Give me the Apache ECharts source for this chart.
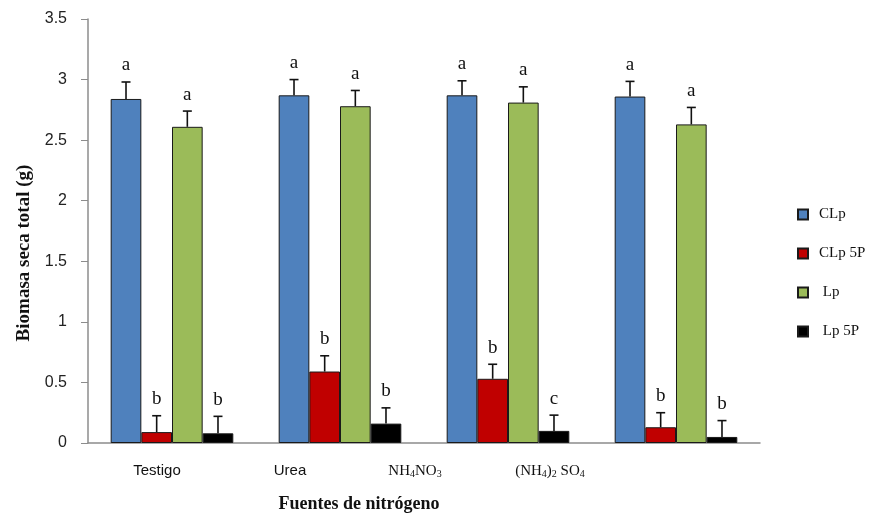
<!DOCTYPE html>
<html>
<head>
<meta charset="utf-8">
<script src="https://cdn.jsdelivr.net/npm/echarts@6/dist/echarts.min.js"></script>
<style>
  html, body { margin: 0; padding: 0; background: #fff; }
  #chart { width: 880px; height: 518px; }
</style>
</head>
<body>
<div id="chart"></div>
<script>
// Nitrogen sources (x categories)
const categories = ['Testigo', 'Urea', 'NH4NO3', '(NH4)2 SO4'];

// Total dry biomass (g) per treatment
const seriesNames = ['CLp', 'CLp 5P', 'Lp', 'Lp 5P'];
const clp   = [2.84, 2.87, 2.87, 2.86];
const clp5p = [0.09, 0.59, 0.53, 0.13];
const lp    = [2.61, 2.78, 2.81, 2.63];
const lp5p  = [0.08, 0.16, 0.10, 0.05];

// Standard errors (upper whisker)
const clpErr   = [0.14, 0.13, 0.12, 0.125];
const clp5pErr = [0.135, 0.13, 0.12, 0.12];
const lpErr    = [0.13, 0.13, 0.13, 0.14];
const lp5pErr  = [0.14, 0.13, 0.13, 0.135];

// Significance letters
const clpSig   = ['a', 'a', 'a', 'a'];
const clp5pSig = ['b', 'b', 'b', 'b'];
const lpSig    = ['a', 'a', 'a', 'a'];
const lp5pSig  = ['b', 'b', 'c', 'b'];

// Y axis ticks
const yMin = 0, yMax = 3.5, yStep = 0.5;

const colors = ['#4F81BD', '#C00000', '#9BBB59', '#000000'];
const values = [clp, clp5p, lp, lp5p];
const errors = [clpErr, clp5pErr, lpErr, lp5pErr];
const letters = [clpSig, clp5pSig, lpSig, lp5pSig];

const CAT_GAP = 0.27;
const serif = '"Liberation Serif", "DejaVu Serif", serif';
const sans = '"Liberation Sans", Arial, sans-serif';

// rich-text markup for the x labels (chemical formulas use subscripts)
const xLabelRich = [
  '{sn|Testigo}{g0| }',
  '{sn|Urea}{g1| }',
  '{f|NH}{sub|4}{f|NO}{sub|3}{g2| }',
  '{f|(NH}{sub|4}{f|)}{sub|2}{f| SO}{sub|4}{g3| }'
];

const barSeries = seriesNames.map((name, k) => ({
  name: name,
  type: 'bar',
  data: values[k],
  barGap: '0%',
  barCategoryGap: (CAT_GAP * 100) + '%',
  itemStyle: { color: colors[k], borderColor: '#1a1a1a', borderWidth: 1 },
  emphasis: { disabled: true }
}));

const errSeries = seriesNames.map((name, k) => ({
  type: 'custom',
  name: name + ' err',
  z: 5,
  silent: true,
  data: values[k].map((v, i) => [i, v, errors[k][i]]),
  encode: { x: 0, y: 1 },
  renderItem: function (params, api) {
    const cat = api.value(0), v = api.value(1), e = api.value(2);
    const band = api.size([1, 0])[0];
    const w = band * (1 - CAT_GAP) / 4;
    const base = api.coord([cat, v]);
    const x = base[0] + (k - 1.5) * w;
    const yTop = api.coord([cat, v + e])[1];
    const ls = { stroke: '#111', lineWidth: 1.6 };
    return {
      type: 'group',
      children: [
        { type: 'line', shape: { x1: x, y1: base[1], x2: x, y2: yTop }, style: ls },
        { type: 'line', shape: { x1: x - 4.5, y1: yTop, x2: x + 4.5, y2: yTop }, style: ls },
        {
          type: 'text',
          style: {
            x: x, y: yTop - 7,
            text: letters[k][params.dataIndex],
            align: 'center', verticalAlign: 'bottom',
            font: '19px ' + serif, fill: '#111'
          }
        }
      ]
    };
  }
}));

const chart = echarts.init(document.getElementById('chart'));
chart.setOption({
  animation: false,
  backgroundColor: '#fff',
  grid: { left: 88, right: 120, top: 19, bottom: 73 },
  legend: {
    orient: 'vertical',
    left: 792, top: 202,
    itemWidth: 10, itemHeight: 10, itemGap: 24,
    icon: 'rect',
    data: seriesNames,
    selectedMode: false,
    formatter: name => (name.startsWith('Lp') ? ' ' + name : name),
    textStyle: { fontFamily: serif, fontSize: 15, color: '#111', padding: [0, 0, 0, 6] }
  },
  xAxis: {
    type: 'category',
    data: categories,
    axisTick: { show: false },
    axisLine: { lineStyle: { color: '#8c8c8c', width: 1.5 } },
    axisLabel: {
      interval: 0,
      hideOverlap: false,
      margin: 20,
      formatter: (val, i) => xLabelRich[i],
      rich: {
        sn: { fontFamily: sans, fontSize: 15, color: '#111' },
        f: { fontFamily: serif, fontSize: 15, color: '#111' },
        sub: { fontFamily: serif, fontSize: 10, color: '#111', verticalAlign: 'bottom', padding: [6, 0, 0, 0] },
        g0: { width: 30 },
        g1: { width: 100 },
        g2: { width: 186 },
        g3: { width: 252 }
      }
    },
    name: 'Fuentes de nitrógeno',
    nameLocation: 'middle',
    nameGap: 52,
    nameTextStyle: {
      fontFamily: serif, fontSize: 18, fontWeight: 'bold', color: '#111',
      padding: [0, 130, 0, 0]
    }
  },
  yAxis: {
    type: 'value',
    min: yMin, max: yMax, interval: yStep,
    splitLine: { show: false },
    axisLine: { show: true, lineStyle: { color: '#8c8c8c', width: 1.5 } },
    axisTick: { show: true, length: 7, lineStyle: { color: '#8c8c8c' } },
    axisLabel: { fontFamily: sans, fontSize: 16, color: '#222', margin: 21 },
    name: 'Biomasa seca total (g)',
    nameLocation: 'middle',
    nameGap: 54,
    nameTextStyle: {
      fontFamily: serif, fontSize: 19, fontWeight: 'bold', color: '#111',
      padding: [0, 44, 0, 0]
    }
  },
  series: barSeries.concat(errSeries)
});
</script>
</body>
</html>
